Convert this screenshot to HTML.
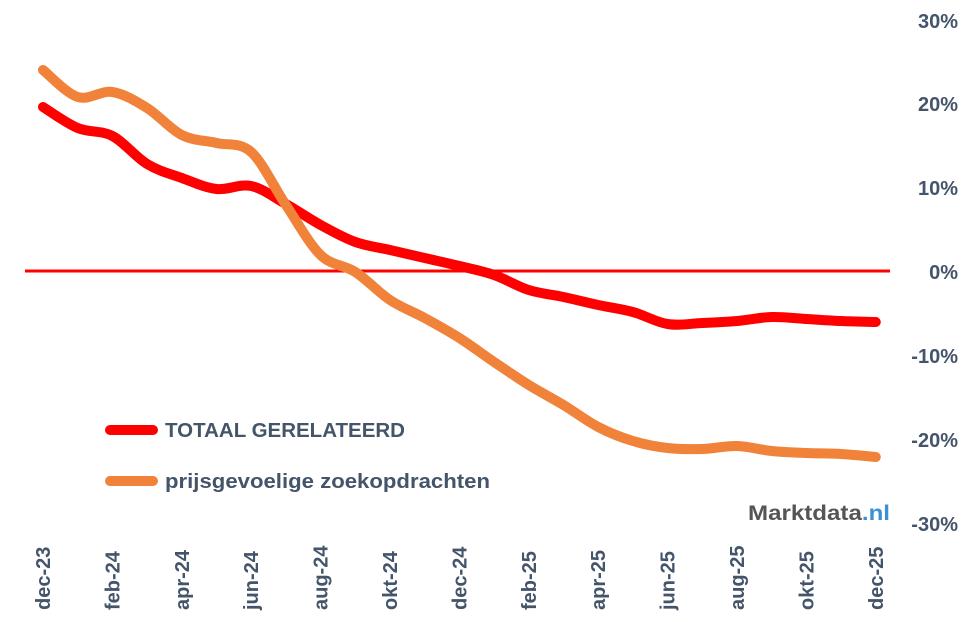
<!DOCTYPE html>
<html><head><meta charset="utf-8"><style>
body{margin:0;background:#fff;overflow:hidden;}
svg text{font-family:"Liberation Sans",sans-serif;font-weight:bold;fill:#44546A;}
</style></head><body>
<svg id="s" width="969" height="622" viewBox="0 0 969 622" style="display:block">
<line x1="25" y1="271" x2="890" y2="271" stroke="#FF0000" stroke-width="3"/>
<g font-size="20" text-anchor="end">
<text x="958" y="28">30%</text>
<text x="958" y="111">20%</text>
<text x="958" y="195">10%</text>
<text x="958" y="279">0%</text>
<text x="958" y="363">-10%</text>
<text x="958" y="447">-20%</text>
<text x="958" y="531">-30%</text>
</g>
<g id="xl" font-size="20" text-anchor="start"></g>
<path id="pr" fill="none" stroke="#FF0000" stroke-width="10" stroke-linecap="round" stroke-linejoin="round"/>
<path id="po" fill="none" stroke="#F0823A" stroke-width="10" stroke-linecap="round" stroke-linejoin="round"/>
<line x1="110" y1="430" x2="153" y2="430" stroke="#FF0000" stroke-width="10" stroke-linecap="round"/>
<text x="165" y="437" font-size="20" textLength="240" lengthAdjust="spacingAndGlyphs">TOTAAL GERELATEERD</text>
<line x1="110" y1="481" x2="153" y2="481" stroke="#F0823A" stroke-width="10" stroke-linecap="round"/>
<text x="165" y="488" font-size="20" textLength="325" lengthAdjust="spacingAndGlyphs">prijsgevoelige zoekopdrachten</text>
<text x="748" y="520" font-size="21" textLength="142" lengthAdjust="spacingAndGlyphs" style="fill:#555">Marktdata<tspan style="fill:#3A8FD6">.nl</tspan></text>
</svg>
<script>
var labels=["dec-23","feb-24","apr-24","jun-24","aug-24","okt-24","dec-24","feb-25","apr-25","jun-25","aug-25","okt-25","dec-25"];
var g=document.getElementById('xl'),h='';
labels.forEach(function(l,i){var x=50+69.4*i;h+='<text transform="translate('+x+',610) rotate(-90)">'+l+'</text>';});
g.innerHTML=h;
function path(ys){var p=ys.map(function(y,i){return[43+34.7*i,y];});var d='M'+p[0][0]+','+p[0][1];
for(var i=0;i<p.length-1;i++){var a=p[i-1]||p[i],b=p[i],c=p[i+1],e=p[i+2]||c;
d+=' C'+(b[0]+(c[0]-a[0])/6)+','+(b[1]+(c[1]-a[1])/6)+' '+(c[0]-(e[0]-b[0])/6)+','+(c[1]-(e[1]-b[1])/6)+' '+c[0]+','+c[1];}return d;}
document.getElementById('pr').setAttribute('d',path([107,128,136,164,178,189,186,204,225,242,250,258,266,275,290,297,305,312,324,323,321,317,319,321,322]));
document.getElementById('po').setAttribute('d',path([70,97,92,108,135,143,152,205,255,272,300,318,338,362,385,405,427,441,448,449,446,451,453,454,457]));
</script>
</body></html>
